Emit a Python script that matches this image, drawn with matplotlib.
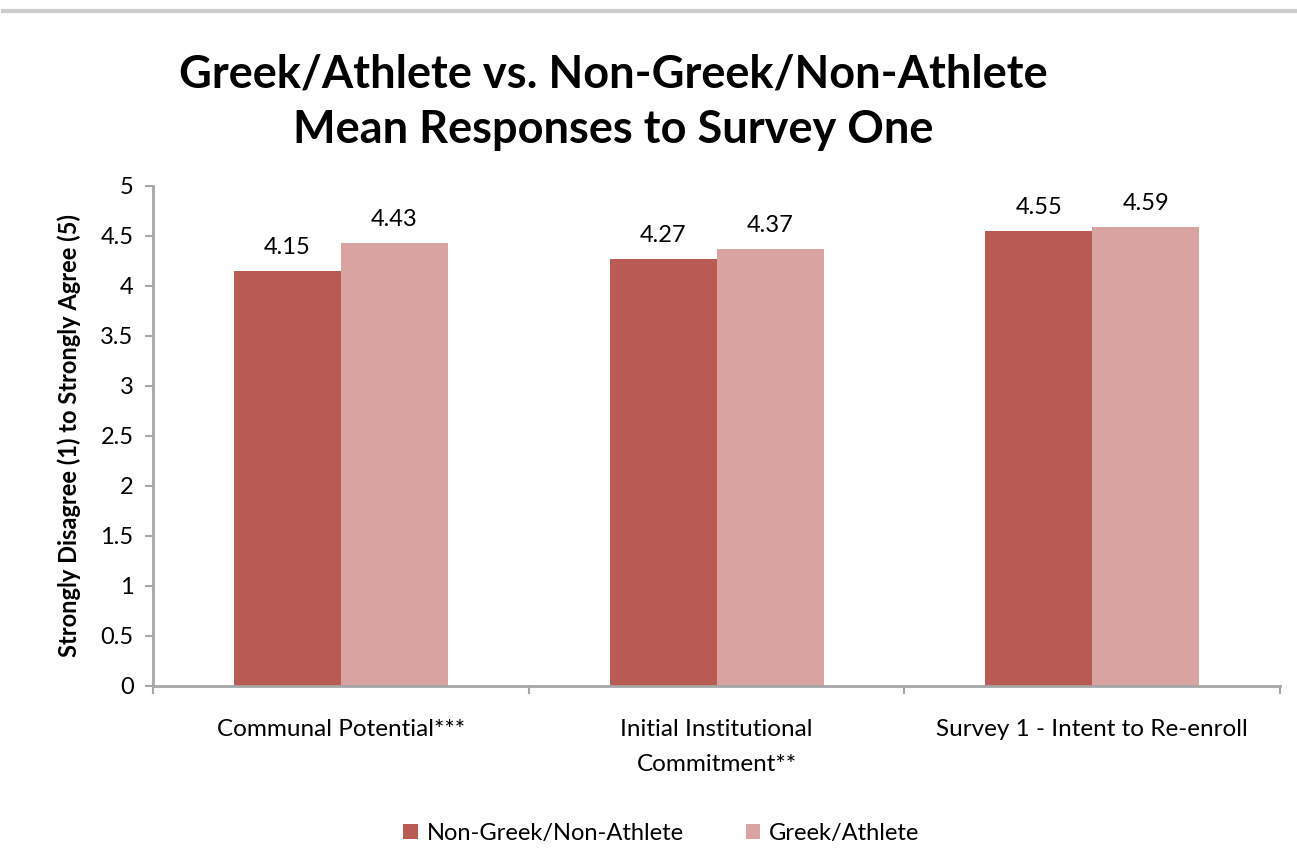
import numpy as np
import matplotlib.pyplot as plt

categories = ["Communal Potential***", "Initial Institutional\nCommitment**", "Survey 1 - Intent to Re-enroll"]
non_greek = [4.15, 4.27, 4.55]
greek = [4.43, 4.37, 4.59]
series_names = ["Non-Greek/Non-Athlete", "Greek/Athlete"]
yticks = [0, 0.5, 1, 1.5, 2, 2.5, 3, 3.5, 4, 4.5, 5]

DARK = '#B95A53'
LIGHT = '#D9A3A1'
SPINE = '#A6A6A6'

plt.rcParams['font.family'] = ['Lato', 'DejaVu Sans']

fig = plt.figure(figsize=(12.97, 8.67), dpi=100)
ax = fig.add_axes([0.118, 0.2088, 0.869, 0.5767])

# gray rule along the top of the image
fig.add_artist(plt.Line2D([0.002, 1.0], [0.987, 0.987], color='#CCCCCC', linewidth=3,
						  transform=fig.transFigure))

x = np.arange(len(categories))
w = 0.285
b1 = ax.bar(x - w / 2, non_greek, w, color=DARK, label=series_names[0])
b2 = ax.bar(x + w / 2, greek, w, color=LIGHT, label=series_names[1])

for bars in (b1, b2):
	for bar in bars:
		h = bar.get_height()
		ax.annotate(f"{h:.2f}", (bar.get_x() + bar.get_width() / 2, h),
					xytext=(0, 9), textcoords='offset points',
					ha='center', va='bottom', fontsize=17)

ax.set_xlim(-0.5, 2.5)
ax.set_ylim(0, 5)
ax.set_yticks(yticks)
ax.set_yticklabels([f"{t:g}" for t in yticks], fontsize=17)

ax.set_xticks([-0.5, 0.5, 1.5, 2.5])
ax.set_xticklabels([])
for xi, lab in zip(x, categories):
	ax.text(xi, -0.33, lab, ha='center', va='top', fontsize=17.5, linespacing=1.85)

for s in ('top', 'right'):
	ax.spines[s].set_visible(False)
for s in ('left', 'bottom'):
	ax.spines[s].set_color(SPINE)
	ax.spines[s].set_linewidth(2)
ax.tick_params(axis='both', direction='out', length=6, width=1.5, color=SPINE, pad=8)

ax.set_ylabel("Strongly Disagree (1) to Strongly Agree (5)", fontsize=17,
			  fontweight='bold', labelpad=14)

fig.text(0.473, 0.882, "Greek/Athlete vs. Non-Greek/Non-Athlete\nMean Responses to Survey One",
		 ha='center', va='center', fontsize=32.5, fontweight='bold', linespacing=1.38)

fig.legend(loc='center', bbox_to_anchor=(0.51, 0.039), ncol=2, frameon=False,
		   fontsize=17, handlelength=0.6, handleheight=0.6, handletextpad=0.4,
		   columnspacing=2.6)

fig.savefig('out.png', dpi=100)
